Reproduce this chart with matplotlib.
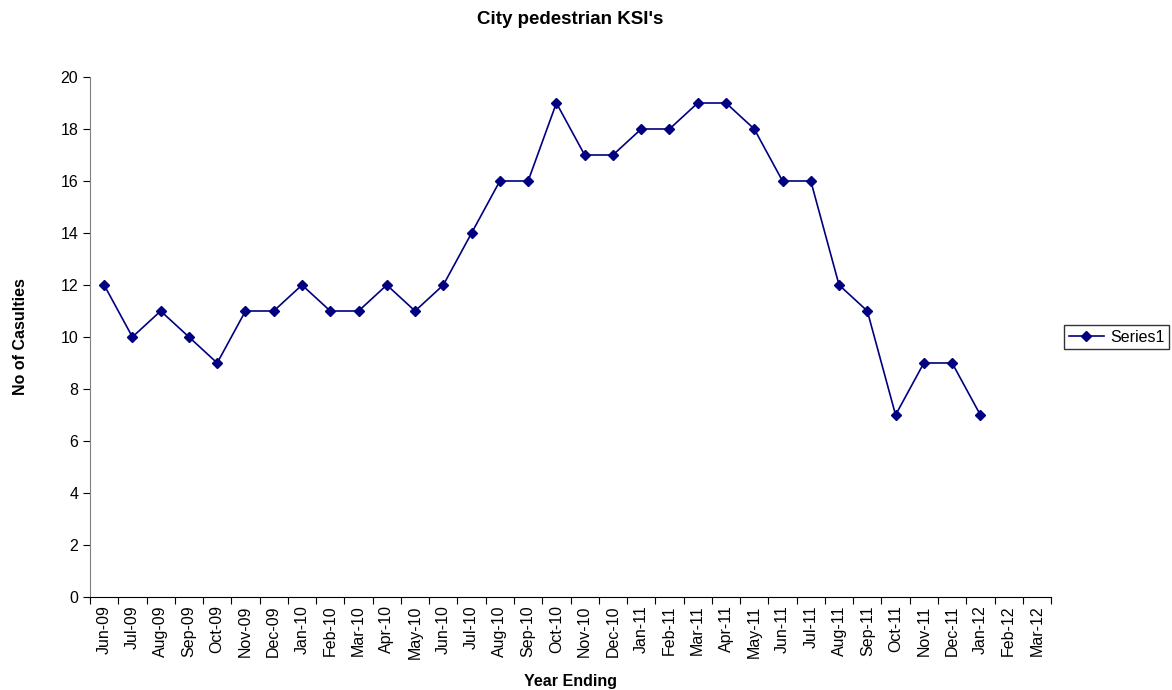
import numpy as np
import matplotlib
matplotlib.use("Agg")
import matplotlib.pyplot as plt

plt.rcParams['font.family'] = ['Liberation Sans', 'DejaVu Sans']

# categories on the x axis
months = ['Jun-09', 'Jul-09', 'Aug-09', 'Sep-09', 'Oct-09', 'Nov-09', 'Dec-09',
          'Jan-10', 'Feb-10', 'Mar-10', 'Apr-10', 'May-10', 'Jun-10', 'Jul-10',
          'Aug-10', 'Sep-10', 'Oct-10', 'Nov-10', 'Dec-10', 'Jan-11', 'Feb-11',
          'Mar-11', 'Apr-11', 'May-11', 'Jun-11', 'Jul-11', 'Aug-11', 'Sep-11',
          'Oct-11', 'Nov-11', 'Dec-11', 'Jan-12', 'Feb-12', 'Mar-12']

# casualties (no data for Feb-12 / Mar-12)
series1 = [12, 10, 11, 10, 9, 11, 11, 12, 11, 11, 12, 11, 12, 14, 16, 16, 19,
           17, 17, 18, 18, 19, 19, 18, 16, 16, 12, 11, 7, 9, 9, 7]

fig = plt.figure(figsize=(11.72, 6.9), dpi=100)
ax = fig.add_axes([0.0768, 0.1348, 0.82, 0.7536])

x = np.arange(len(series1))
ax.plot(x, series1, color='#000080', marker='D', markersize=5, linewidth=1.2,
        label='Series1')

ax.set_xlim(-0.5, len(months) - 0.5)
ax.set_ylim(0, 20)
ax.set_yticks(range(0, 21, 2))

# ticks between categories, labels at centres
ax.set_xticks(np.arange(-0.5, len(months), 1))
ax.set_xticklabels([])
ax.set_xticks(np.arange(len(months)), minor=True)
ax.set_xticklabels(months, minor=True, rotation=90, fontsize=11.5)
ax.tick_params(axis='x', which='minor', length=0, pad=6)
ax.tick_params(axis='x', which='major', length=5, direction='out')
ax.tick_params(axis='y', length=5, direction='out', labelsize=11.5)

for s in ['top', 'right']:
    ax.spines[s].set_visible(False)
ax.spines['left'].set_color('#808080')
ax.spines['bottom'].set_color('black')

ax.set_title("City pedestrian KSI's", fontsize=13.5, fontweight='bold', pad=38)
ax.set_xlabel('Year Ending', fontsize=11.5, fontweight='bold', labelpad=11)
ax.set_ylabel('No of Casulties', fontsize=11.5, fontweight='bold', labelpad=23)

fig.legend(loc='center left', bbox_to_anchor=(1064 / 1172, 1 - 337 / 690),
           fontsize=11.5, frameon=True, fancybox=False, edgecolor='black',
           borderaxespad=0, borderpad=0.3, handlelength=2.2, handletextpad=0.4)

fig.savefig('out.png', dpi=100)
